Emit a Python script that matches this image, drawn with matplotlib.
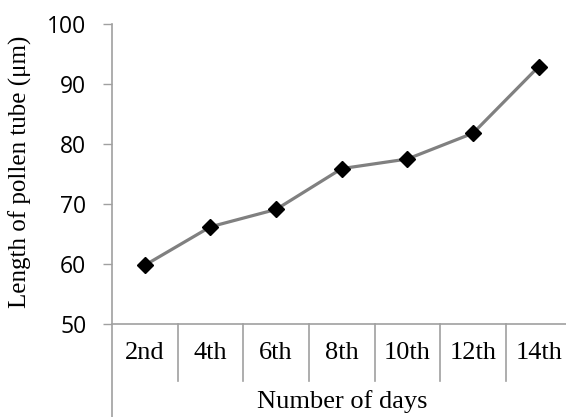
import matplotlib
matplotlib.use("Agg")
import matplotlib.pyplot as plt
from matplotlib.lines import Line2D

categories = ["2nd", "4th", "6th", "8th", "10th", "12th", "14th"]
values = [59.8, 66.2, 69.1, 75.9, 77.5, 81.8, 92.9]
yticks = [50, 60, 70, 80, 90, 100]

W, H = 566, 417
fig = plt.figure(figsize=(W / 100, H / 100), dpi=100)
left_px, right_px, top_px, bottom_px = 112, 571.5, 24, 324
ax = fig.add_axes([left_px / W, (H - bottom_px) / H,
                   (right_px - left_px) / W, (bottom_px - top_px) / H])

x = list(range(len(categories)))
ax.plot(x, values, color="#808080", lw=2.3, marker="D", markersize=8.5,
        markerfacecolor="black", markeredgecolor="black", zorder=3, clip_on=False)

ax.set_xlim(-0.5, len(categories) - 0.5)
ax.set_ylim(50, 100)
ax.set_yticks(yticks)
ax.set_yticklabels([str(v) for v in yticks], fontfamily="Open Sans", fontsize=16.5)
ax.tick_params(axis="y", length=6.5, width=1, color="#a0a0a0", pad=12)

for s in ["top", "right"]:
    ax.spines[s].set_visible(False)
ax.spines["left"].set_visible(False)
ax.spines["bottom"].set_color("#a0a0a0")
ax.spines["bottom"].set_linewidth(1.2)

ax.set_xticks([])
tr = ax.get_xaxis_transform()
axis_color = "#a0a0a0"
# left axis line extended down to the figure bottom
ax.add_line(Line2D([-0.5, -0.5], [1, -93 / 300], transform=tr, color=axis_color,
                   lw=1.2, clip_on=False))
# category separators
for i in range(1, len(categories)):
    ax.add_line(Line2D([i - 0.5, i - 0.5], [0, -57 / 300], transform=tr,
                       color=axis_color, lw=1.2, clip_on=False))
for i, c in enumerate(categories):
    ax.text(i, -29 / 300, c, transform=tr, ha="center", va="center",
            fontfamily="Liberation Serif", fontsize=19)

fig.text(342 / W, 1 - 402 / H, "Number of days", ha="center", va="center",
         fontfamily="Liberation Serif", fontsize=19)
fig.text(20 / W, 1 - 172 / H, "Length of pollen tube (\u03bcm)", ha="center",
         va="center", rotation=90, fontfamily="Liberation Serif", fontsize=18)

fig.savefig("out.png", dpi=100)
